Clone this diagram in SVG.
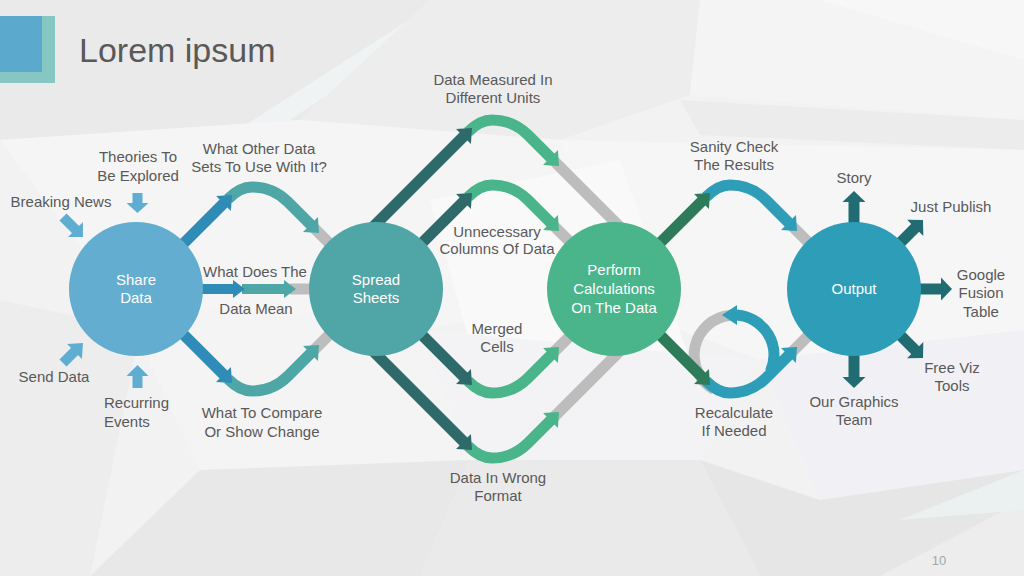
<svg xmlns="http://www.w3.org/2000/svg" xmlns:xlink="http://www.w3.org/1999/xlink" width="1024" height="576" viewBox="0 0 1024 576">
<style>
.t{font-family:"Liberation Sans",Arial,sans-serif;font-size:15px;fill:#595959;text-anchor:middle}
.ts{text-anchor:start}
.w{fill:#ffffff}
.gray{stroke:#BDBDBD;stroke-width:11;fill:none}
.o{fill:#206C72}
.os{stroke:#206C72;stroke-width:11}
.in{fill:#60ADD2}
.ins{stroke:#60ADD2;stroke-width:10}
</style>
<defs>
<g id="hump">
<path d="M -4,4 C 2,-2 10,-8 20,-8 C 32,-8 44,-5 56,7 L 79,30" fill="none" stroke="currentColor" stroke-width="11"/>
<polygon points="87,38 85.9,22.1 71.1,36.9" fill="currentColor"/>
</g>
</defs>
<g id="background">
<rect x="0" y="0" width="1024" height="576" fill="#F2F2F2"/>
<polygon points="0,0 430,0 300,120 0,140" fill="#EAEAEA"/>
<polygon points="230,135 440,0 470,0 260,140" fill="#F0F3F3"/>
<polygon points="430,0 700,0 690,95 560,140 300,120" fill="#EDEDED"/>
<polygon points="700,0 1024,0 1024,120 690,95" fill="#F4F4F4"/>
<polygon points="820,0 1024,0 1024,60" fill="#F7F7F7"/>
<polygon points="680,100 1024,120 1024,150 700,135" fill="#ECECEC"/>
<polygon points="0,140 300,120 560,140 600,300 420,330 120,300" fill="#F5F5F5"/>
<polygon points="560,140 1024,150 1024,330 760,360 600,300" fill="#F6F6F6"/>
<polygon points="430,200 620,160 690,360 480,380" fill="#F9F9F9"/>
<polygon points="0,300 140,330 90,576 0,576" fill="#EDEDED"/>
<polygon points="120,300 420,330 470,460 200,470" fill="#F4F4F4"/>
<polygon points="420,330 760,360 700,460 470,460" fill="#F3F3F6"/>
<polygon points="760,360 1024,330 1024,470 820,500" fill="#F1F1F5"/>
<polygon points="90,576 200,470 470,460 420,576" fill="#E8E8E8"/>
<polygon points="420,576 470,460 700,460 760,576" fill="#EAEAEA"/>
<polygon points="700,460 820,500 1024,470 1024,576 760,576" fill="#E6E6E6"/>
<polygon points="880,576 1024,500 1024,576" fill="#EDEDED"/>
<polygon points="900,520 1024,470 1024,510" fill="#EBF1F1"/>
</g>
<g id="title">
<rect x="0" y="16" width="55" height="67" fill="#86C7C3"/>
<rect x="0" y="16" width="42" height="56" fill="#5BA9CC"/>
<text x="79" y="62" style="font-family:'Liberation Sans',Arial,sans-serif;font-size:34px;fill:#595959">Lorem ipsum</text>
</g>
<g id="connectors">
<line class="gray" x1="312" y1="226" x2="352" y2="266"/>
<line class="gray" x1="312" y1="352" x2="352" y2="312"/>
<line class="gray" x1="290" y1="289" x2="320" y2="289"/>
<line class="gray" x1="552" y1="159" x2="640" y2="247"/>
<line class="gray" x1="552" y1="224" x2="590" y2="262"/>
<line class="gray" x1="552" y1="354" x2="590" y2="316"/>
<line class="gray" x1="552" y1="419" x2="640" y2="331"/>
<line class="gray" x1="790" y1="224" x2="830" y2="264"/>
<line class="gray" x1="790" y1="354" x2="830" y2="314"/>
<path class="gray" d="M 730.5,315.2 A 40 40 0 0 0 714,389.6"/>
<use xlink:href="#hump" href="#hump" transform="translate(232,195)" color="#4FA6A6"/>
<use xlink:href="#hump" href="#hump" transform="translate(232,383) scale(1,-1)" color="#4FA6A6"/>
<use xlink:href="#hump" href="#hump" transform="translate(472,128)" color="#4AB48A"/>
<use xlink:href="#hump" href="#hump" transform="translate(472,193)" color="#4AB48A"/>
<use xlink:href="#hump" href="#hump" transform="translate(472,385) scale(1,-1)" color="#4AB48A"/>
<use xlink:href="#hump" href="#hump" transform="translate(472,450) scale(1,-1)" color="#4AB48A"/>
<use xlink:href="#hump" href="#hump" transform="translate(710,193)" color="#2E9DB8"/>
<use xlink:href="#hump" href="#hump" transform="translate(710,385) scale(1,-1)" color="#2E9DB8"/>
<path d="M 770.3,371.9 A 40 40 0 0 0 736.1,315.1" fill="none" stroke="#2E9DB8" stroke-width="11"/>
<polygon points="722,315 737,305 737,325" fill="#2E9DB8"/>
<line x1="242" y1="289" x2="285" y2="289" stroke="#4FA6A6" stroke-width="10"/>
<polygon points="284,280 296,289 284,298" fill="#4FA6A6"/>
<line x1="195" y1="289" x2="234" y2="289" stroke="#2E8CB6" stroke-width="10"/>
<polygon points="233,280 245,289 233,298" fill="#2E8CB6"/>
<line x1="165" y1="262" x2="224" y2="203" stroke="#2E8CB6" stroke-width="11"/>
<polygon points="232,195 230.9,210.9 216.1,196.1" fill="#2E8CB6"/>
<line x1="165" y1="316" x2="224" y2="375" stroke="#2E8CB6" stroke-width="11"/>
<polygon points="232,383 230.9,367.1 216.1,381.9" fill="#2E8CB6"/>
<line x1="372" y1="228" x2="464" y2="136" stroke="#2F6A6B" stroke-width="11"/>
<polygon points="472,128 470.9,143.9 456.1,129.1" fill="#2F6A6B"/>
<line x1="410" y1="255" x2="464" y2="201" stroke="#2F6A6B" stroke-width="11"/>
<polygon points="472,193 470.9,208.9 456.1,194.1" fill="#2F6A6B"/>
<line x1="410" y1="323" x2="464" y2="377" stroke="#2F6A6B" stroke-width="11"/>
<polygon points="472,385 470.9,369.1 456.1,383.9" fill="#2F6A6B"/>
<line x1="372" y1="350" x2="464" y2="442" stroke="#2F6A6B" stroke-width="11"/>
<polygon points="472,450 470.9,434.1 456.1,448.9" fill="#2F6A6B"/>
<line x1="650" y1="253" x2="702" y2="201" stroke="#2E7B5A" stroke-width="11"/>
<polygon points="710,193 708.9,208.9 694.1,194.1" fill="#2E7B5A"/>
<line x1="650" y1="325" x2="702" y2="377" stroke="#2E7B5A" stroke-width="11"/>
<polygon points="710,385 708.9,369.1 694.1,383.9" fill="#2E7B5A"/>
<line class="os" x1="854" y1="240" x2="854" y2="202"/>
<polygon class="o" points="842.5,202 865.5,202 854,191"/>
<line class="os" x1="854" y1="340" x2="854" y2="377"/>
<polygon class="o" points="842.5,377 865.5,377 854,388"/>
<line class="os" x1="910" y1="289" x2="941" y2="289"/>
<polygon class="o" points="941,277.5 941,300.5 952,289"/>
<line class="os" x1="895" y1="248" x2="916" y2="227"/>
<polygon class="o" points="923,220 923.3,235.9 907.1,219.7"/>
<line class="os" x1="895" y1="330" x2="916" y2="351"/>
<polygon class="o" points="923,358 923.3,342.1 907.1,358.3"/>
<line class="ins" x1="137.5" y1="193" x2="137.5" y2="204"/>
<polygon class="in" points="126.5,203 148.5,203 137.5,213"/>
<line class="ins" x1="137.5" y1="388" x2="137.5" y2="375"/>
<polygon class="in" points="126.5,376 148.5,376 137.5,365"/>
<line class="ins" x1="63" y1="217" x2="76" y2="230"/>
<polygon class="in" points="83,237 82.9,222.1 68.1,236.9"/>
<line class="ins" x1="63" y1="363" x2="76" y2="350"/>
<polygon class="in" points="83,343 81.9,358.9 67.1,344.1"/>
</g>
<g id="node-share">
<circle cx="136" cy="289" r="67" fill="#62ADD0"/>
<text class="t w" x="136" y="285">Share</text>
<text class="t w" x="136" y="303">Data</text>
</g>
<g id="node-spread">
<circle cx="376" cy="289" r="67" fill="#50A5A6"/>
<text class="t w" x="376" y="285">Spread</text>
<text class="t w" x="376" y="303">Sheets</text>
</g>
<g id="node-calc">
<circle cx="614" cy="289" r="67" fill="#4AB48A"/>
<text class="t w" x="614" y="275">Perform</text>
<text class="t w" x="614" y="294">Calculations</text>
<text class="t w" x="614" y="313">On The Data</text>
</g>
<g id="node-output">
<circle cx="854" cy="289" r="67" fill="#2E9DB7"/>
<text class="t w" x="854" y="294">Output</text>
</g>
<g id="labels">
<text class="t" x="138" y="162">Theories To</text>
<text class="t" x="138" y="181">Be Explored</text>
<text class="t" x="61" y="207">Breaking News</text>
<text class="t" x="54" y="382">Send Data</text>
<text class="t ts" x="104" y="408">Recurring</text>
<text class="t ts" x="104" y="427">Events</text>
<text class="t" x="259" y="154">What Other Data</text>
<text class="t" x="259" y="172">Sets To Use With It?</text>
<text class="t ts" x="203" y="277">What Does The</text>
<text class="t" x="256" y="314">Data Mean</text>
<text class="t" x="262" y="418">What To Compare</text>
<text class="t" x="262" y="437">Or Show Change</text>
<text class="t" x="493" y="85">Data Measured In</text>
<text class="t" x="493" y="103">Different Units</text>
<text class="t" x="497" y="237">Unnecessary</text>
<text class="t" x="497" y="254">Columns Of Data</text>
<text class="t" x="497" y="334">Merged</text>
<text class="t" x="497" y="352">Cells</text>
<text class="t" x="498" y="483">Data In Wrong</text>
<text class="t" x="498" y="501">Format</text>
<text class="t" x="734" y="152">Sanity Check</text>
<text class="t" x="734" y="170">The Results</text>
<text class="t" x="734" y="418">Recalculate</text>
<text class="t" x="734" y="436">If Needed</text>
<text class="t" x="854" y="183">Story</text>
<text class="t" x="951" y="212">Just Publish</text>
<text class="t" x="981" y="280">Google</text>
<text class="t" x="981" y="298">Fusion</text>
<text class="t" x="981" y="317">Table</text>
<text class="t" x="952" y="373">Free Viz</text>
<text class="t" x="952" y="391">Tools</text>
<text class="t" x="854" y="407">Our Graphics</text>
<text class="t" x="854" y="425">Team</text>
<text x="939" y="565" style="font-family:'Liberation Sans',Arial,sans-serif;font-size:13px;fill:#A6A6A6;text-anchor:middle">10</text>
</g>
</svg>
